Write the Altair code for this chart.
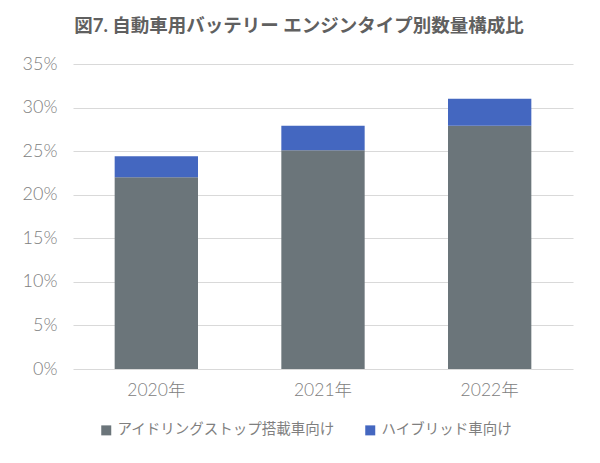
import altair as alt
import pandas as pd

years = ["2020年", "2021年", "2022年"]
series = ["アイドリングストップ搭載車向け", "ハイブリッド車向け"]
idle_stop = [0.220, 0.251, 0.279]
hybrid = [0.024, 0.028, 0.031]
colors = ["#6b757a", "#4467c0"]

rows = []
for i, y in enumerate(years):
    rows.append({"year": y, "type": series[0], "value": idle_stop[i], "ord": 0})
    rows.append({"year": y, "type": series[1], "value": hybrid[i], "ord": 1})
df = pd.DataFrame(rows)

FONT = "Lato, 'Noto Sans CJK JP', sans-serif"

chart = alt.Chart(df).mark_bar().encode(
    x=alt.X("year:N", sort=years,
            scale=alt.Scale(paddingInner=0.5, paddingOuter=0.25),
            axis=alt.Axis(title=None, labelAngle=0, domain=False, ticks=False,
                          labelFontSize=17.5, labelColor="#808080", labelPadding=12,
                          labelFont=FONT, labelFontWeight=300)),
    y=alt.Y("value:Q", stack="zero",
            scale=alt.Scale(domain=[0, 0.35]),
            axis=alt.Axis(title=None, format=".0%", values=[i / 100 for i in range(0, 36, 5)],
                          domain=False, ticks=False, gridColor="#d9d9d9", gridWidth=1,
                          labelFontSize=18, labelColor="#808080", labelPadding=16,
                          labelFont=FONT, labelFontWeight=300)),
    color=alt.Color("type:N", sort=series,
                    scale=alt.Scale(domain=series, range=colors),
                    legend=alt.Legend(title=None, orient="none", direction="horizontal",
                                      legendX=26, legendY=359, symbolType="square",
                                      symbolSize=100, symbolStrokeWidth=0,
                                      labelFontSize=14.5, labelColor="#7f7f7f",
                                      labelFont=FONT, labelLimit=0, columnPadding=28,
                                      labelOffset=4)),
    order=alt.Order("ord:Q", sort="ascending"),
).properties(
    width=500,
    height=305,
    background="white",
    title=alt.TitleParams(
        "図7. 自動車用バッテリー エンジンタイプ別数量構成比",
        font=FONT, fontSize=18.5, fontWeight="bold", color="#606060",
        anchor="middle", dx=-24, offset=20,
    ),
    padding={"left": 65, "top": 56, "right": 19, "bottom": 86},
    autosize=alt.AutoSizeParams(type="none"),
).configure_view(stroke="transparent", strokeWidth=0)

chart.save("out.html", embed_options={"renderer": "svg", "actions": False})
